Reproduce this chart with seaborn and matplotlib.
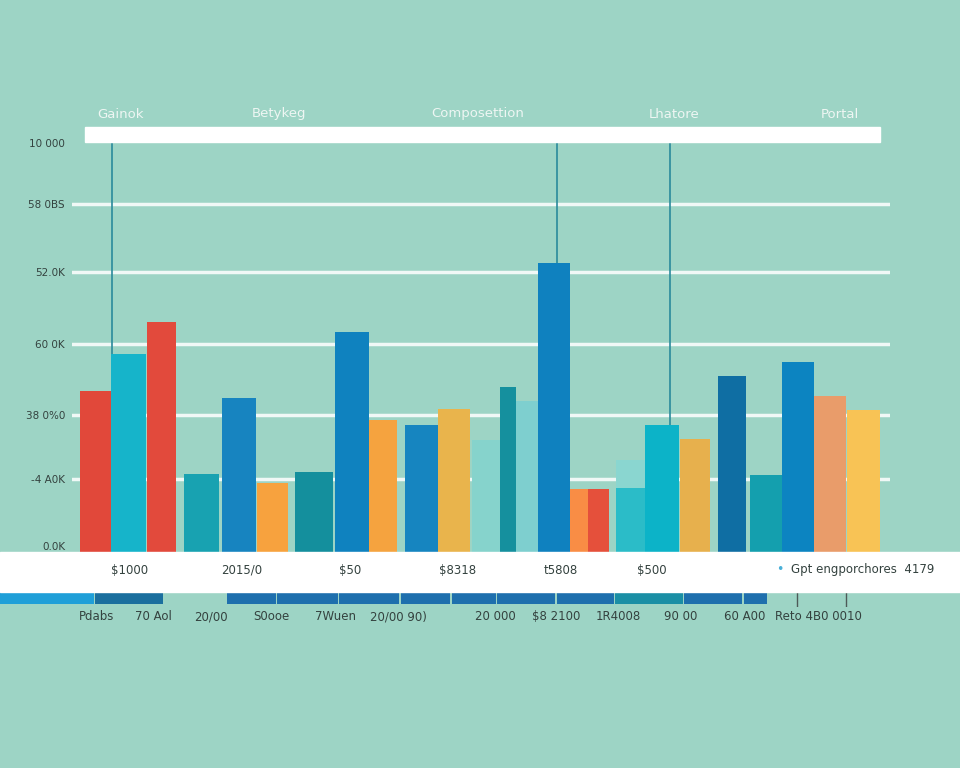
import numpy as np
import pandas as pd
import matplotlib
matplotlib.use('Agg')
import matplotlib.pyplot as plt
from matplotlib.patches import Rectangle
import seaborn as sns

# chart data
header_labels = ['Gainok', 'Betykeg', 'Composettion', 'Lhatore', 'Portal']
y_ticks = [0, 1070, 2010, 3050, 4110, 5100, 6000]
y_tick_labels = ['0.0K', '-4 A0K', '38 0%0', '60 0K', '52.0K', '58 0BS', '10 000']
bar_names = ['b%02d' % i for i in range(1, 26)]
bar_values = [2360, 2900, 3370, 1140, 2260, 1010, 1170, 3230, 1940, 1860,
              2100, 1640, 2420, 2210, 4240, 920, 920, 940, 1860, 1660,
              2580, 1130, 2790, 2290, 2080]
ghost_values = [1350]
band_labels = ['$1000', '2015/0', '$50', '$8318', 't5808', '$500']
legend_label = 'Gpt engporchores  4179'
bottom_labels = ['Pdabs', '70 Aol', '20/00', 'S0ooe', '7Wuen', '20/00 90)',
                 '20 000', '$8 2100', '1R4008', '90 00', '60 A00', 'Reto 4B0 0010']

# layout / style
BG = '#9dd4c5'
TXT = '#34423f'
bar_colors = ['#e1483a', '#16b4ca', '#e24a3c', '#18a2b1', '#1784c0', '#f7a23e',
              '#148f9d', '#0f82bf', '#f5a33f', '#1685c0', '#e9b44c', '#86d3cc',
              '#15909e', '#7ecfcf', '#0f81bf', '#f98d45', '#e5503b', '#2bbcc8',
              '#0cb3c8', '#e7b04d', '#0f6ea3', '#149fae', '#0c84c1', '#e99c6a',
              '#f8c355']
bar_widths = [31, 35, 29, 35, 34, 31, 38, 34, 28, 33, 32, 28, 16, 22, 32,
              18, 21, 29, 34, 30, 28, 32, 32, 32, 33]
bar_gaps = [8, 0, 1, 8, 3, 1, 7, 2, 0, 8, 0, 2, 0, 0, 0, 0, 0, 7, 0, 1,
            8, 4, 0, 0, 1]
ghost_bar = 17
header_x = [120, 279, 478, 674, 840]
band_x = [130, 242, 350, 458, 561, 652]
bottom_x = [97, 153, 211, 271, 335, 398, 495, 556, 618, 681, 745, 818]
strip_widths = [94, 68, 49, 61, 60, 49, 44, 58, 57, 68, 58, 23]
strip_gaps = [0, 1, 64, 1, 1, 2, 2, 1, 2, 1, 1, 2]
strip_colors = ['#1f9fd8', '#1b6f9e'] + ['#1e6fad'] * 7 + ['#1a8fa5', '#1e6fad', '#1e6fad']
vline_bars = [(1, 0.03), (14, 0.6), (18, 0.74)]

W, H = 960, 768
X0, X1, YB, YT = 72, 890, 552, 143

lefts = X0 + np.cumsum(bar_gaps) + np.concatenate([[0], np.cumsum(bar_widths)[:-1]])
centers = lefts + np.array(bar_widths) / 2

df = pd.DataFrame({'bar': bar_names, 'value': bar_values, 'pos': centers})

fig = plt.figure(figsize=(W / 100, H / 100), dpi=100, facecolor=BG)
ax = fig.add_axes([X0 / W, 1 - YB / H, (X1 - X0) / W, (YB - YT) / H])
ax.set_facecolor(BG)

# faint shape behind the cyan group
ax.bar(centers[ghost_bar] + 2, ghost_values, width=bar_widths[ghost_bar] + 4,
       color='#8ad6d0', linewidth=0, zorder=2)

sns.barplot(data=df, x='pos', y='value', hue='bar', palette=bar_colors,
            native_scale=True, dodge=False, legend=False, saturation=1,
            ax=ax, zorder=3)
for p, left, w in zip(ax.patches[1:], lefts, bar_widths):
    p.set_x(left)
    p.set_width(w)
    p.set_linewidth(0)

ax.set_xlim(X0, X1)
ax.set_ylim(0, 6000)
ax.set_yticks(y_ticks)
ax.set_yticklabels(y_tick_labels, fontsize=7.5, color=TXT, fontweight='medium')
ax.get_yticklabels()[0].set_va('bottom')
ax.set_xticks([])
ax.set_xlabel('')
ax.set_ylabel('')
ax.tick_params(axis='y', length=0, pad=5)
for s in ax.spines.values():
    s.set_visible(False)
for t in y_ticks[1:-1]:
    ax.axhline(t, color='white', lw=2.5, alpha=0.85, zorder=1)

for i, frac in vline_bars:
    x = lefts[i] + frac * bar_widths[i]
    ax.vlines(x, bar_values[i], 6000, color='#2a8a9c', lw=1.2, zorder=4)

# white header band
fig.add_artist(Rectangle((85 / W, 1 - 142 / H), (880 - 85) / W, 15 / H,
                         transform=fig.transFigure, color='white', zorder=5))
for x, lab in zip(header_x, header_labels):
    fig.text(x / W, 1 - 114 / H, lab, ha='center', va='center',
             fontsize=9.5, color='#eef6f3')

# white bottom band
fig.add_artist(Rectangle((0, 1 - 592 / H), 1, 40 / H,
                         transform=fig.transFigure, color='white', zorder=5))
for x, lab in zip(band_x, band_labels):
    fig.text(x / W, 1 - 570 / H, lab, ha='center', va='center',
             fontsize=8.5, color=TXT, zorder=6)
fig.text(780 / W, 1 - 570 / H, '\u2022', ha='center', va='center',
         fontsize=9, color='#4ab0d8', zorder=6)
fig.text(791 / W, 1 - 570 / H, legend_label, ha='left', va='center',
         fontsize=8.5, color=TXT, zorder=6)

# coloured strip under the band
sx = fig.add_axes([0, 1 - 604 / H, 1, 12 / H])
sx.set_xlim(0, W)
sx.set_ylim(0, 1)
sx.axis('off')
s_lefts = np.cumsum(strip_gaps) + np.concatenate([[0], np.cumsum(strip_widths)[:-1]])
sx.barh(0.5, strip_widths, left=s_lefts, height=1, color=strip_colors, linewidth=0)

tx = fig.add_axes([0, 1 - 607 / H, 1, 15 / H])
tx.set_xlim(0, W)
tx.set_ylim(0, 1)
tx.axis('off')
tx.vlines([797, 846], 0, 1, color='#4d5a58', lw=1)

for x, lab in zip(bottom_x, bottom_labels):
    fig.text(x / W, 1 - 617 / H, lab, ha='center', va='center',
             fontsize=8.5, color=TXT)

plt.savefig('out.png', dpi=100, facecolor=BG)
plt.close()
